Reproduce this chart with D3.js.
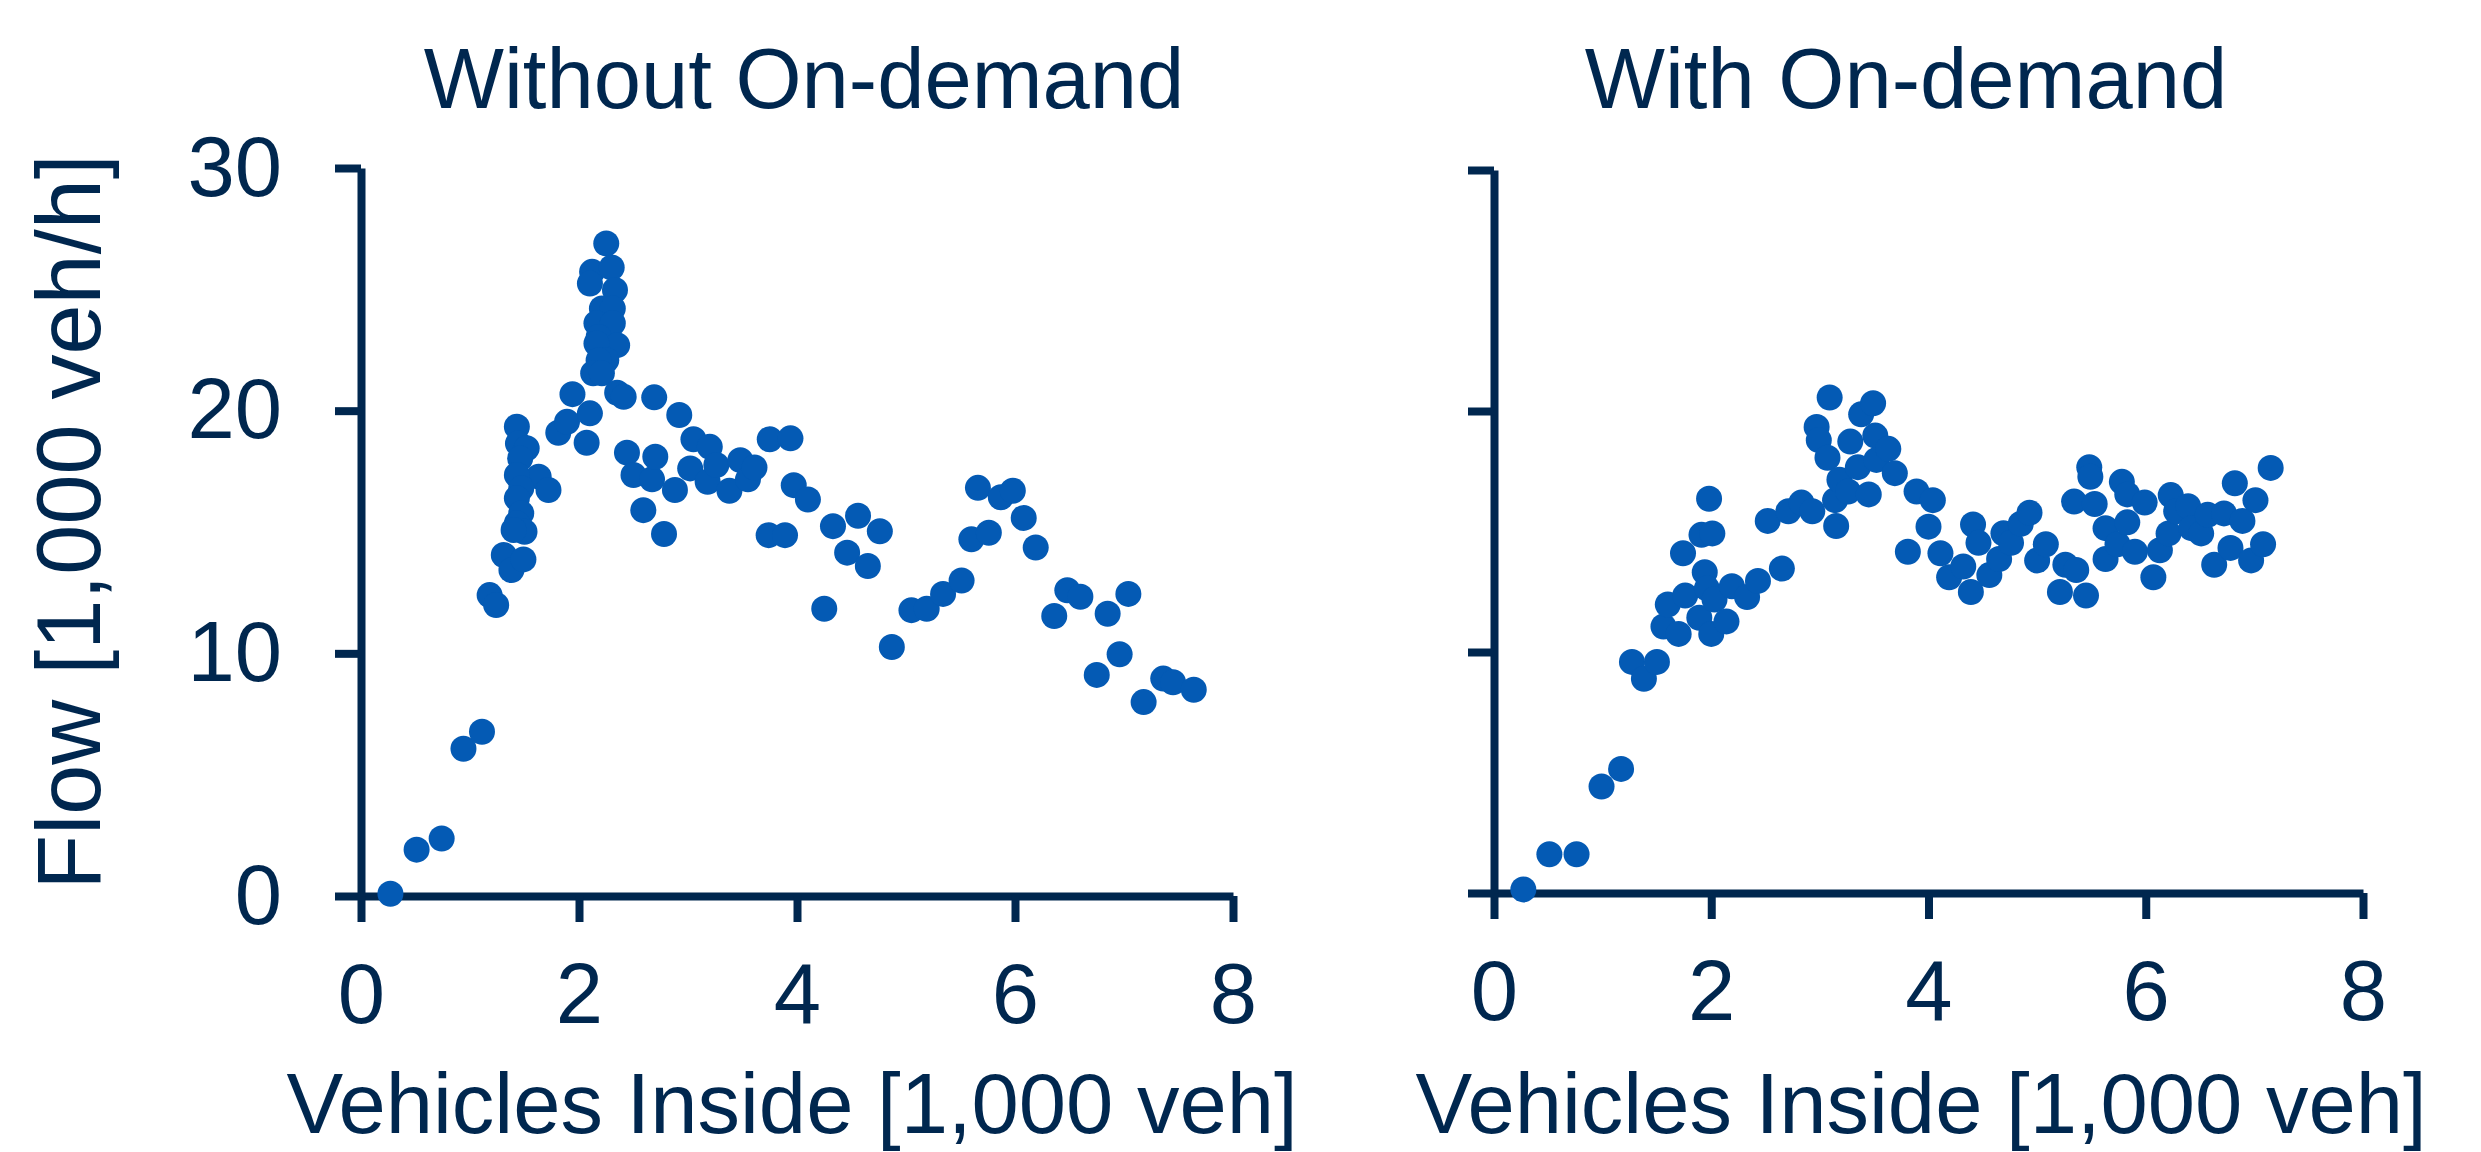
<!DOCTYPE html>
<html>
<head>
<meta charset="utf-8">
<script src="https://cdn.jsdelivr.net/npm/d3@7"></script>
<style>
  html, body { margin: 0; padding: 0; background: #fff; }
  svg { display: block; }
  text { font-family: "Liberation Sans", Arial, sans-serif; fill: #00274f; }
</style>
</head>
<body>
<div id="chart"></div>
<script>
const xTicks = [0, 2, 4, 6, 8];
const yTicks = [0, 10, 20, 30];
const panelTitles = ['Without On-demand', 'With On-demand'];
const xLabel = 'Vehicles Inside [1,000 veh]';
const yLabel = 'Flow [1,000 veh/h]';

// without on-demand: vehicles inside (1,000 veh) and flow (1,000 veh/h)
const withoutVehicles = [
  0.27, 0.51, 0.74, 0.94, 1.11, 1.18, 1.24, 1.31, 1.38, 1.49,
  1.43, 1.44, 1.52, 1.46, 1.63, 1.43, 1.72, 1.47, 1.43, 1.47, 1.43, 1.50, 1.40,
  1.81, 1.89, 1.94, 2.07, 2.10,
  2.25, 2.12, 2.30, 2.10, 2.33, 2.21, 2.31, 2.16, 2.31, 2.18, 2.35, 2.16, 2.25, 2.18, 2.13, 2.21,
  2.35, 2.41, 2.44, 2.50, 2.59, 2.67, 2.69, 2.70, 2.78, 2.88, 2.92,
  3.02, 3.05, 3.18, 3.20, 3.26, 3.38, 3.48, 3.55, 3.61, 3.74, 3.75, 3.89, 3.94, 3.97, 4.10,
  4.25, 4.33, 4.46, 4.56, 4.65, 4.76, 4.87, 5.05, 5.19, 5.34, 5.51,
  5.60, 5.66, 5.76, 5.87, 5.98, 6.08, 6.19, 6.36, 6.48, 6.60,
  6.75, 6.85, 6.96, 7.04, 7.18, 7.36, 7.45, 7.64
];
const withoutFlow = [
  0.09, 1.91, 2.37, 6.07, 6.77, 12.40, 11.99, 14.05, 13.43, 13.87,
  19.34, 18.65, 18.45, 18.03, 17.28, 17.35, 16.73, 16.80, 16.39, 15.77, 15.36, 15.01, 15.08,
  19.09, 19.54, 20.68, 18.68, 19.89,
  26.89, 25.72, 25.90, 25.24, 24.97, 24.21, 24.21, 23.60, 23.60, 23.04, 22.70, 22.77, 22.08, 22.08, 21.54, 21.54,
  20.74, 20.57, 18.27, 17.35, 15.90, 17.17, 20.55, 18.10, 14.92, 16.73, 19.82,
  17.62, 18.82, 17.07, 18.51, 17.76, 16.70, 17.96, 17.17, 17.66, 14.87, 18.82, 14.87, 18.86, 16.93, 16.34,
  11.84, 15.24, 14.15, 15.67, 13.60, 15.03, 10.26, 11.78, 11.84, 12.45, 13.00,
  14.70, 16.82, 14.97, 16.43, 16.70, 15.58, 14.36, 11.54, 12.60, 12.33,
  9.11, 11.63, 9.96, 12.45, 7.99, 8.96, 8.81, 8.50
];

// with on-demand
const withVehicles = [
  0.27, 0.51, 0.76, 0.99, 1.17, 1.27, 1.38, 1.50, 1.56, 1.60,
  1.70, 1.74, 1.76, 1.89, 1.94, 1.91, 2.01, 1.98, 1.96, 2.03, 2.00, 2.14, 2.19, 2.33,
  2.43, 2.65, 2.52, 2.71, 2.83, 2.93, 2.97, 2.99, 3.07, 3.09, 3.15, 3.14, 3.18,
  3.28, 3.35, 3.26, 3.38, 3.49, 3.51, 3.52, 3.45, 3.63, 3.69, 3.81, 3.89, 4.04,
  4.00, 4.11, 4.19, 4.32, 4.39, 4.41, 4.46, 4.56, 4.65, 4.69, 4.76, 4.85, 4.93,
  5.00, 5.08, 5.21, 5.26, 5.36, 5.45, 5.34, 5.48, 5.49, 5.53, 5.63, 5.63, 5.74,
  5.78, 5.83, 5.83, 5.90, 5.99, 6.07, 6.13, 6.21, 6.23, 6.28, 6.39, 6.42, 6.51,
  6.57, 6.63, 6.72, 6.78, 6.82, 6.89, 6.97, 7.01, 7.08, 7.15
];
const withFlow = [
  0.15, 1.61, 1.61, 4.42, 5.15, 9.59, 8.89, 9.59, 11.06, 11.97,
  10.75, 14.10, 12.34, 11.42, 13.31, 14.86, 14.92, 16.36, 12.64, 12.18, 10.75, 11.27, 12.73, 12.28,
  12.95, 13.46, 15.44, 15.84, 16.20, 15.84, 19.34, 18.79, 18.06, 20.56, 15.23, 16.30, 17.15,
  18.73, 17.67, 16.66, 19.86, 20.32, 18.98, 17.97, 16.54, 18.43, 17.42, 14.16, 16.66, 16.30,
  15.20, 14.10, 13.10, 13.55, 12.49, 15.29, 14.53, 13.19, 13.86, 14.93, 14.53, 15.32, 15.78,
  13.80, 14.47, 12.49, 13.62, 13.40, 12.34, 16.24, 17.67, 17.27, 16.14, 13.86, 15.14, 14.47,
  17.06, 16.54, 15.38, 14.16, 16.20, 13.10, 14.22, 14.92, 16.51, 15.84, 16.05, 15.14, 14.92,
  15.69, 13.62, 15.75, 14.32, 17.00, 15.44, 13.80, 16.30, 14.47, 17.64
];

const W = 2481, H = 1152;
const ink = '#00274f';
const dotColor = '#045ab4';
const fontSize = 85;

const panels = [
  { title: panelTitles[0], xs: withoutVehicles, ys: withoutFlow,
    left: 361, right: 1233, top: 168, bottom: 896, yLabels: true, titleX: 804, xTitleX: 792 },
  { title: panelTitles[1], xs: withVehicles, ys: withFlow,
    left: 1494, right: 2363, top: 170, bottom: 893, yLabels: false, titleX: 1906, xTitleX: 1921 }
];

const svg = d3.select('#chart').append('svg')
  .attr('width', W)
  .attr('height', H);

panels.forEach(p => {
  const x = d3.scaleLinear().domain([0, 8]).range([p.left, p.right]);
  const y = d3.scaleLinear().domain([0, 30]).range([p.bottom, p.top]);

  const xAxis = svg.append('g')
    .attr('transform', `translate(0,${p.bottom})`)
    .call(d3.axisBottom(x).tickValues(xTicks).tickSize(26).tickSizeOuter(0).tickPadding(41));

  const yAxis = svg.append('g')
    .attr('transform', `translate(${p.left},0)`)
    .call(d3.axisLeft(y).tickValues(yTicks).tickSize(26).tickSizeOuter(0).tickPadding(53)
      .tickFormat(p.yLabels ? d3.format('d') : () => ''));

  [xAxis, yAxis].forEach(ax => {
    ax.select('.domain').attr('stroke', ink).attr('stroke-width', 8);
    ax.selectAll('.tick line').attr('stroke', ink).attr('stroke-width', 8);
    ax.selectAll('.tick text')
      .attr('fill', ink)
      .style('font-size', fontSize + 'px')
      .style('font-family', '"Liberation Sans", Arial, sans-serif');
  });

  svg.append('g')
    .selectAll('circle')
    .data(p.xs.map((v, i) => [v, p.ys[i]]))
    .enter()
    .append('circle')
    .attr('cx', d => x(d[0]))
    .attr('cy', d => y(d[1]))
    .attr('r', 13)
    .attr('fill', dotColor);

  svg.append('text')
    .attr('x', p.titleX)
    .attr('y', 108)
    .attr('text-anchor', 'middle')
    .style('font-size', fontSize + 'px')
    .text(p.title);

  // pulled up a little so the brackets stay inside the frame
  svg.append('text')
    .attr('x', p.xTitleX)
    .attr('y', 1133)
    .attr('text-anchor', 'middle')
    .style('font-size', fontSize + 'px')
    .text(xLabel);
});

svg.append('text')
  .attr('transform', 'translate(100,522) rotate(-90)')
  .attr('text-anchor', 'middle')
  .style('font-size', '90px')
  .text(yLabel);
</script>
</body>
</html>
